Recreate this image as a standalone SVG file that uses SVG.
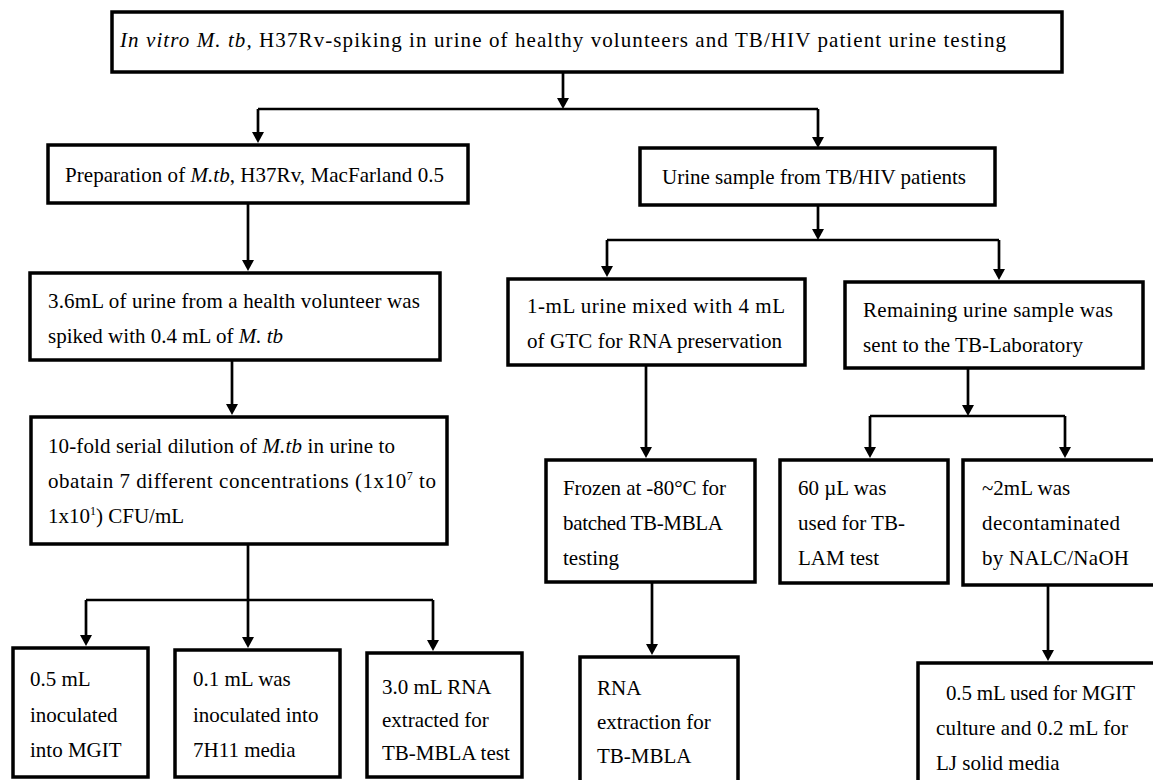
<svg xmlns="http://www.w3.org/2000/svg" width="1153" height="780" viewBox="0 0 1153 780">
<style>
.box{fill:#fff;stroke:#000;stroke-width:3.5}
.t{font-family:"Liberation Serif","Times New Roman",serif;font-size:21px;fill:#000}
.i{font-style:italic}
.c path{fill:none;stroke:#000;stroke-width:2.7}
.c path.a{marker-end:url(#ah)}
</style>
<defs>
<marker id="ah" markerUnits="userSpaceOnUse" markerWidth="11" markerHeight="12" viewBox="0 0 11 12" refX="7" refY="6" orient="auto"><path d="M0,0 L11,6 L0,12 z" fill="#000"/></marker>
</defs>
<rect width="1153" height="780" fill="#fff"/>
<g class="c" id="connectors">
<path class="a" d="M563,72 V105"/>
<path d="M258,109 H818"/>
<path class="a" d="M258,109 V139"/>
<path class="a" d="M818,109 V144"/>
<path class="a" d="M248,203 V267"/>
<path class="a" d="M232,360 V411"/>
<path class="a" d="M248,544 V644"/>
<path d="M86,600 H433"/>
<path class="a" d="M86,600 V642"/>
<path class="a" d="M433,600 V647"/>
<path class="a" d="M818,205 V236"/>
<path d="M607,240 H999"/>
<path class="a" d="M607,240 V273"/>
<path class="a" d="M999,240 V276"/>
<path class="a" d="M646,365 V454"/>
<path class="a" d="M652,582 V651"/>
<path class="a" d="M968,368 V412"/>
<path d="M870,416 H1065"/>
<path class="a" d="M870,416 V454"/>
<path class="a" d="M1065,416 V454"/>
<path class="a" d="M1048,585 V657"/>
</g>
<g id="n-top"><rect class="box" x="112" y="12" width="950" height="60"/>
<text class="t" x="120" y="47" textLength="886"><tspan class="i">In vitro M. tb,</tspan> H37Rv-spiking in urine of healthy volunteers and TB/HIV patient urine testing</text></g>
<g id="n-prep"><rect class="box" x="48" y="145" width="420" height="58"/>
<text class="t" x="65" y="182" textLength="379">Preparation of <tspan class="i">M.tb</tspan>, H37Rv, MacFarland 0.5</text></g>
<g id="n-urine"><rect class="box" x="640" y="148" width="355" height="57"/>
<text class="t" x="662" y="184" textLength="304">Urine sample from TB/HIV patients</text></g>
<g id="n-spike"><rect class="box" x="30" y="273" width="410" height="87"/>
<text class="t" x="48" y="308" textLength="372">3.6mL of urine from a health volunteer was</text>
<text class="t" x="48" y="343" textLength="235">spiked with 0.4 mL of <tspan class="i">M. tb</tspan></text></g>
<g id="n-dilution"><rect class="box" x="31" y="417" width="416" height="127"/>
<text class="t" x="48" y="453" textLength="347">10-fold serial dilution of <tspan class="i">M.tb</tspan> in urine to</text>
<text class="t" x="48" y="488" textLength="388">obatain 7 different concentrations (1x10<tspan dy="-8" font-size="12">7</tspan><tspan dy="8"> to</tspan></text>
<text class="t" x="48" y="523">1x10<tspan dy="-8" font-size="12">1</tspan><tspan dy="8">) CFU/mL</tspan></text></g>
<g id="n-mgit"><rect class="box" x="13" y="648" width="135" height="129"/>
<text class="t" x="30" y="686">0.5 mL</text>
<text class="t" x="30" y="722">inoculated</text>
<text class="t" x="30" y="757">into MGIT</text></g>
<g id="n-7h11"><rect class="box" x="175" y="650" width="165" height="127"/>
<text class="t" x="193" y="686">0.1 mL was</text>
<text class="t" x="193" y="722">inoculated into</text>
<text class="t" x="193" y="757">7H11 media</text></g>
<g id="n-rna1"><rect class="box" x="367" y="653" width="155" height="124"/>
<text class="t" x="382" y="694">3.0 mL RNA</text>
<text class="t" x="382" y="727">extracted for</text>
<text class="t" x="382" y="760">TB-MBLA test</text></g>
<g id="n-gtc"><rect class="box" x="508" y="279" width="297" height="86"/>
<text class="t" x="527" y="313" textLength="258">1-mL urine mixed with 4 mL</text>
<text class="t" x="527" y="348" textLength="255">of GTC for RNA preservation</text></g>
<g id="n-remaining"><rect class="box" x="845" y="282" width="298" height="86"/>
<text class="t" x="863" y="317" textLength="250">Remaining urine sample was</text>
<text class="t" x="863" y="352" textLength="220">sent to the TB-Laboratory</text></g>
<g id="n-frozen"><rect class="box" x="546" y="460" width="209" height="122"/>
<text class="t" x="563" y="495" textLength="163">Frozen at -80°C for</text>
<text class="t" x="563" y="530" textLength="160">batched TB-MBLA</text>
<text class="t" x="563" y="565">testing</text></g>
<g id="n-rna2"><rect class="box" x="580" y="657" width="158" height="135"/>
<text class="t" x="597" y="695">RNA</text>
<text class="t" x="597" y="729">extraction for</text>
<text class="t" x="597" y="763">TB-MBLA</text></g>
<g id="n-lam"><rect class="box" x="780" y="460" width="168" height="123"/>
<text class="t" x="798" y="495">60 µL was</text>
<text class="t" x="798" y="530">used for TB-</text>
<text class="t" x="798" y="565">LAM test</text></g>
<g id="n-decon"><rect class="box" x="963" y="460" width="200" height="125"/>
<text class="t" x="982" y="495">~2mL was</text>
<text class="t" x="982" y="530" textLength="138">decontaminated</text>
<text class="t" x="982" y="565" textLength="147">by NALC/NaOH</text></g>
<g id="n-culture"><rect class="box" x="918" y="663" width="250" height="135"/>
<text class="t" x="946" y="700" textLength="189">0.5 mL used for MGIT</text>
<text class="t" x="936" y="735" textLength="192">culture and 0.2 mL for</text>
<text class="t" x="936" y="770">LJ solid media</text></g>
</svg>
